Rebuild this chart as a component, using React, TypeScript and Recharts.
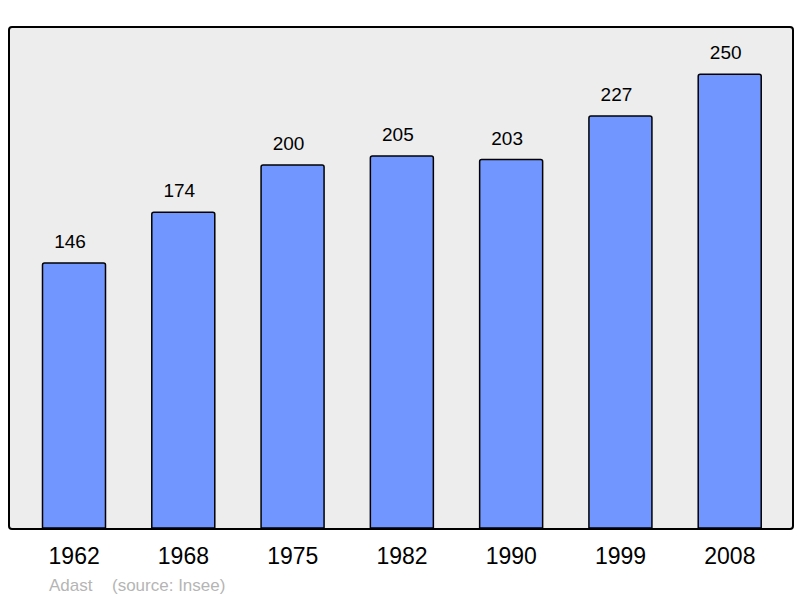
import React from "react";
import { BarChart, Bar, XAxis, YAxis, LabelList } from "recharts";

const years = ["1962", "1968", "1975", "1982", "1990", "1999", "2008"];
const population = [146, 174, 200, 205, 203, 227, 250];

const data = years.map((year, i) => ({ year, population: population[i] }));

const font = "'Liberation Sans', Arial, sans-serif";

export default function App() {
  return (
    <div style={{ position: "absolute", left: 0, top: 0, width: 800, height: 598, background: "#fff", fontFamily: font }}>
      <div
        style={{
          position: "absolute",
          left: 8,
          top: 26,
          width: 782,
          height: 500,
          background: "#ededed",
          border: "2px solid #000",
          borderRadius: 4,
        }}
      />
      <div style={{ position: "absolute", left: 0, top: 0 }}>
        <BarChart width={800} height={598} data={data} margin={{ top: 27, right: 8, left: 9, bottom: 40 }}>
          <YAxis hide domain={[0, 276]} />
          <XAxis
            dataKey="year"
            axisLine={false}
            tickLine={false}
            tickSize={0}
            tickMargin={20}
            padding={{ left: 10.5, right: 7.5 }}
            tick={{ fill: "#000", fontSize: 23, fontFamily: font }}
          />
          <Bar
            dataKey="population"
            fill="#7196ff"
            stroke="#000"
            strokeWidth={1.5}
            barSize={63}
            radius={[2, 2, 0, 0]}
            isAnimationActive={false}
          >
            <LabelList dataKey="population" position="top" offset={15} dx={-4} fill="#000" fontSize={19} fontFamily={font} />
          </Bar>
        </BarChart>
      </div>
      <div style={{ position: "absolute", left: 49, top: 576, fontSize: 17, color: "#b5b5b5" }}>Adast</div>
      <div style={{ position: "absolute", left: 112, top: 576, fontSize: 17, color: "#b5b5b5" }}>(source: Insee)</div>
    </div>
  );
}
